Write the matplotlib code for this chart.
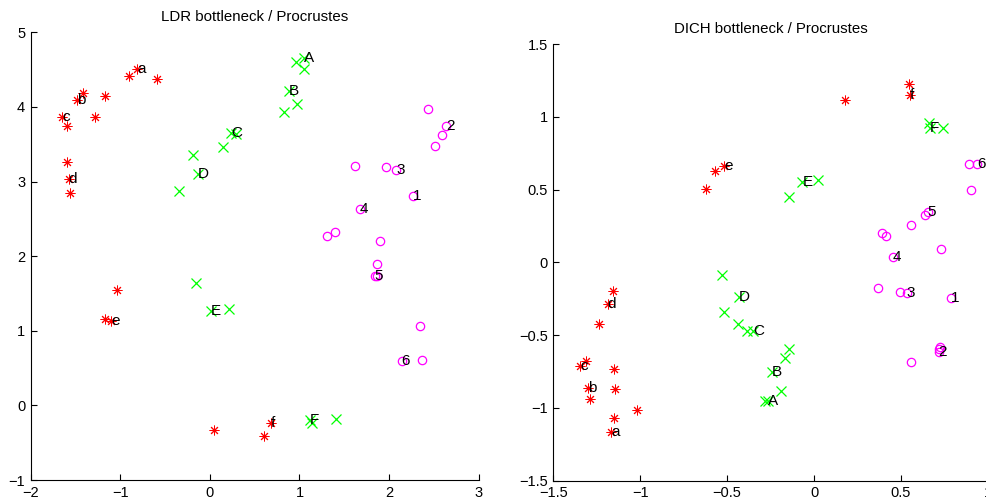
#!/usr/bin/env python3

import matplotlib
matplotlib.use("Agg")
import matplotlib.pyplot as plt

plt.rcParams["font.family"] = ["Liberation Sans", "DejaVu Sans"]

# --- LDR bottleneck ---
ldr_red_x = [-0.81, -0.90, -0.59, -1.42, -1.48, -1.17, -1.28, -1.65, -1.60,
             -1.60, -1.575, -1.56, -1.035, -1.17, -1.10, 0.05, 0.68, 0.60]
ldr_red_y = [4.51, 4.42, 4.37, 4.18, 4.09, 4.14, 3.86, 3.87, 3.75,
             3.26, 3.03, 2.85, 1.54, 1.16, 1.13, -0.33, -0.24, -0.41]
ldr_green_x = [0.96, 1.05, 1.05, 0.88, 0.97, 0.83, 0.15, 0.24, 0.29,
               -0.185, -0.13, -0.34, -0.154, 0.01, 0.21, 1.12, 1.14, 1.41]
ldr_green_y = [4.60, 4.65, 4.51, 4.21, 4.04, 3.93, 3.46, 3.65, 3.64,
               3.35, 3.10, 2.87, 1.645, 1.26, 1.29, -0.19, -0.23, -0.18]
ldr_mag_x = [2.27, 2.43, 2.64, 2.59, 2.51, 1.62, 1.97, 2.08, 1.67,
             1.40, 1.31, 1.90, 1.86, 1.84, 1.87, 2.35, 2.14, 2.37]
ldr_mag_y = [2.81, 3.97, 3.74, 3.63, 3.48, 3.21, 3.19, 3.16, 2.63,
             2.33, 2.27, 2.20, 1.90, 1.74, 1.74, 1.07, 0.59, 0.61]
ldr_labels = ["a", "b", "c", "d", "e", "f",
              "A", "B", "C", "D", "E", "F",
              "1", "2", "3", "4", "5", "6"]
ldr_label_x = [-0.81, -1.48, -1.65, -1.575, -1.10, 0.68,
               1.05, 0.88, 0.24, -0.13, 0.01, 1.12,
               2.27, 2.64, 2.08, 1.67, 1.84, 2.14]
ldr_label_y = [4.51, 4.09, 3.87, 3.03, 1.13, -0.24,
               4.65, 4.21, 3.65, 3.10, 1.26, -0.19,
               2.81, 3.74, 3.16, 2.63, 1.74, 0.59]

# --- DICH bottleneck ---
dich_red_x = [-0.622, -0.572, -0.516, 0.175, 0.543, 0.55, -1.154, -1.187, -1.237,
              -1.313, -1.346, -1.15, -1.30, -1.146, -1.288, -1.02, -1.15, -1.167]
dich_red_y = [0.505, 0.63, 0.666, 1.117, 1.23, 1.15, -0.194, -0.285, -0.425,
              -0.675, -0.711, -0.734, -0.864, -0.871, -0.938, -1.013, -1.07, -1.165]
dich_green_x = [-0.068, 0.024, -0.142, 0.658, 0.665, 0.742, -0.53, -0.434, -0.516,
                -0.435, -0.385, -0.35, -0.146, -0.165, -0.241, -0.19, -0.28, -0.267]
dich_green_y = [0.552, 0.565, 0.449, 0.959, 0.923, 0.927, -0.088, -0.235, -0.342,
                -0.42, -0.47, -0.47, -0.592, -0.654, -0.75, -0.88, -0.95, -0.95]
dich_mag_x = [0.888, 0.936, 0.902, 0.56, 0.635, 0.654, 0.39, 0.416, 0.729,
              0.454, 0.367, 0.492, 0.533, 0.786, 0.723, 0.72, 0.716, 0.56]
dich_mag_y = [0.675, 0.677, 0.497, 0.256, 0.327, 0.345, 0.201, 0.185, 0.093,
              0.04, -0.173, -0.202, -0.209, -0.241, -0.578, -0.598, -0.613, -0.681]
dich_labels = ldr_labels
dich_label_x = [-1.167, -1.30, -1.346, -1.187, -0.516, 0.55,
                -0.267, -0.241, -0.35, -0.434, -0.068, 0.665,
                0.786, 0.716, 0.533, 0.454, 0.654, 0.936]
dich_label_y = [-1.165, -0.864, -0.711, -0.285, 0.666, 1.15,
                -0.95, -0.75, -0.47, -0.235, 0.552, 0.923,
                -0.241, -0.613, -0.209, 0.04, 0.345, 0.677]

ldr_xticks = [-2, -1, 0, 1, 2, 3]
ldr_yticks = [-1, 0, 1, 2, 3, 4, 5]
dich_xticks = [-1.5, -1, -0.5, 0, 0.5, 1]
dich_yticks = [-1.5, -1, -0.5, 0, 0.5, 1, 1.5]


def tick_str(v):
    s = f"{v:g}"
    return s.replace("-", "\u2212")


def draw_panel(ax, red, green, mag, labels, lx, ly, xticks, yticks, title):
    # MATLAB風の '*' マーカー（8本線のアスタリスク）
    ax.plot(red[0], red[1], linestyle="none", marker=(8, 2, 0), color="#ff0000",
            markersize=7, markeredgewidth=0.7)
    ax.plot(green[0], green[1], linestyle="none", marker="x", color="#00ff00",
            markersize=6.5, markeredgewidth=0.9)
    ax.plot(mag[0], mag[1], linestyle="none", marker="o", color="#ff00ff",
            markerfacecolor="none", markersize=6, markeredgewidth=0.9)
    for t, x, y in zip(labels, lx, ly):
        ax.text(x, y, t, ha="left", va="center", fontsize=11, color="black")

    ax.set_xlim(xticks[0], xticks[-1])
    ax.set_ylim(yticks[0], yticks[-1])
    ax.set_xticks(xticks)
    ax.set_yticks(yticks)
    ax.set_xticklabels([tick_str(v) for v in xticks])
    ax.set_yticklabels([tick_str(v) for v in yticks])
    ax.tick_params(direction="in", length=4, width=0.8, labelsize=10.5, pad=4)
    ax.spines["top"].set_visible(False)
    ax.spines["right"].set_visible(False)
    for s in ("left", "bottom"):
        ax.spines[s].set_linewidth(0.8)
    ax.set_title(title, fontsize=10.8, pad=8)


def main():
    fig = plt.figure(figsize=(9.87, 5.04), dpi=100)
    ax1 = fig.add_axes([0.0311, 0.0476, 0.4539, 0.8883])
    ax2 = fig.add_axes([0.5606, 0.0462, 0.4404, 0.8660])

    draw_panel(ax1, (ldr_red_x, ldr_red_y), (ldr_green_x, ldr_green_y),
               (ldr_mag_x, ldr_mag_y), ldr_labels, ldr_label_x, ldr_label_y,
               ldr_xticks, ldr_yticks, "LDR bottleneck / Procrustes")
    draw_panel(ax2, (dich_red_x, dich_red_y), (dich_green_x, dich_green_y),
               (dich_mag_x, dich_mag_y), dich_labels, dich_label_x, dich_label_y,
               dich_xticks, dich_yticks, "DICH bottleneck / Procrustes")

    fig.savefig("out.png", dpi=100)
    plt.close(fig)


if __name__ == "__main__":
    main()
